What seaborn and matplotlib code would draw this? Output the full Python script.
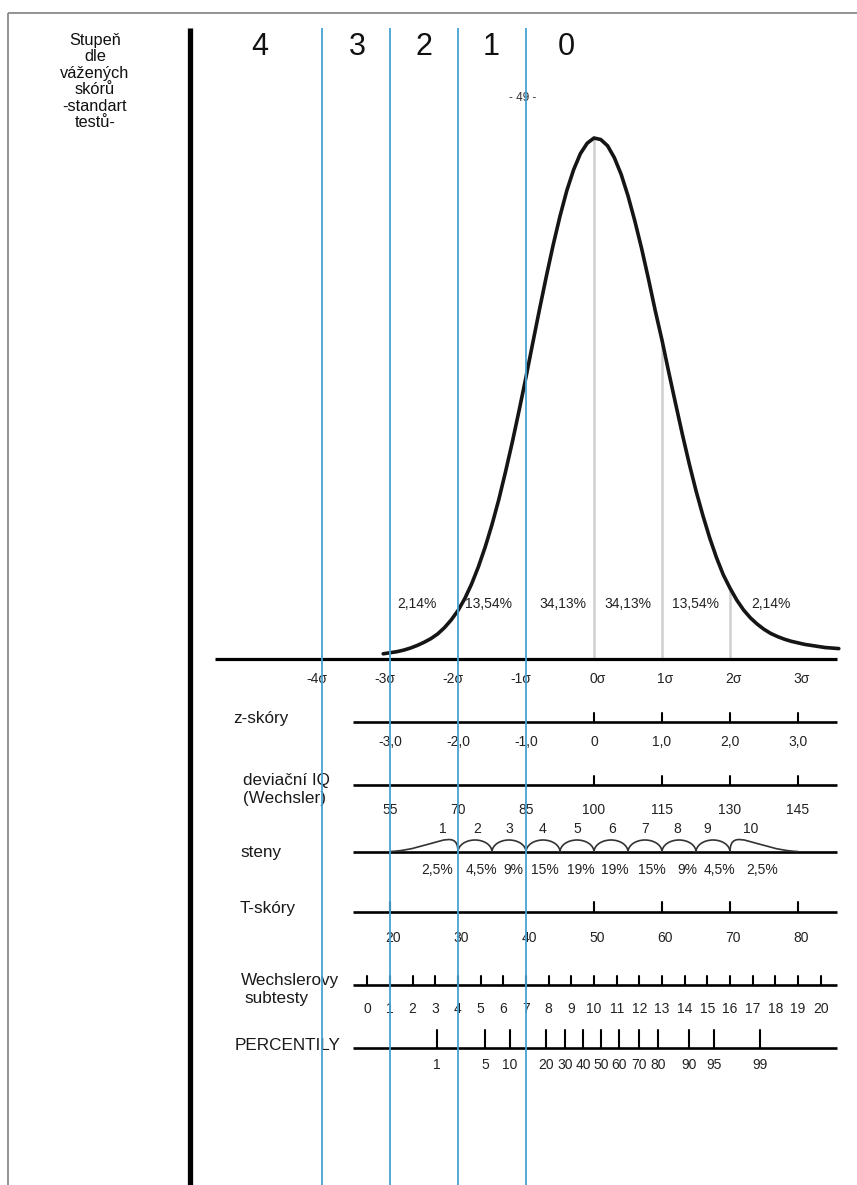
import numpy as np
import matplotlib
matplotlib.use("Agg")
import matplotlib.pyplot as plt
import seaborn as sns
from matplotlib.patches import Arc, PathPatch
from matplotlib.path import Path

# ---------------- data ----------------
grades = ["4", "3", "2", "1", "0"]
grade_pos = [-4.92, -3.48, -2.5, -1.52, -0.4]          # sigma units
grade_bounds = [-4, -3, -2, -1]                         # blue boundary lines

curve_sigma = np.round(np.arange(-3.1, 3.61, 0.1), 1)
curve_height = [0.010, 0.012, 0.014, 0.017, 0.021, 0.026, 0.032, 0.039, 0.048, 0.060,
                0.075, 0.093, 0.116, 0.144, 0.177, 0.215, 0.258, 0.306, 0.360, 0.417,
                0.478, 0.541, 0.607, 0.672, 0.735, 0.795, 0.850, 0.899, 0.939, 0.970,
                0.990, 1.000, 0.997, 0.985, 0.962, 0.930, 0.889, 0.841, 0.788, 0.730,
                0.669, 0.612, 0.550, 0.490, 0.431, 0.375, 0.323, 0.276, 0.233, 0.195,
                0.162, 0.136, 0.113, 0.094, 0.079, 0.067, 0.057, 0.049, 0.043, 0.038,
                0.034, 0.031, 0.028, 0.026, 0.024, 0.022, 0.021, 0.020]
gray_sigma = [0, 1, 2]

band_pct = ["2,14%", "13,54%", "34,13%", "34,13%", "13,54%", "2,14%"]
band_pos = [-2.6, -1.55, -0.45, 0.5, 1.5, 2.6]

sigma_vals = [-4, -3, -2, -1, 0, 1, 2, 3]
sigma_labels = ["-4σ", "-3σ", "-2σ", "-1σ", "0σ", "1σ", "2σ", "3σ"]

z_vals = [-3, -2, -1, 0, 1, 2, 3]
z_labels = ["-3,0", "-2,0", "-1,0", "0", "1,0", "2,0", "3,0"]
z_ticks = [0, 1, 2, 3]

iq_vals = [55, 70, 85, 100, 115, 130, 145]
iq_ticks = [100, 115, 130, 145]

sten_nums = ["1", "2", "3", "4", "5", "6", "7", "8", "9", "10"]
sten_num_pos = [-2.22, -1.72, -1.24, -0.75, -0.25, 0.26, 0.75, 1.22, 1.66, 2.3]
sten_bounds = [-2.0, -1.5, -1.0, -0.5, 0.0, 0.5, 1.0, 1.5, 2.0]
sten_pct = ["2,5%", "4,5%", "9%", "15%", "19%", "19%", "15%", "9%", "4,5%", "2,5%"]
sten_pct_pos = [-2.3, -1.65, -1.19, -0.72, -0.2, 0.31, 0.85, 1.37, 1.85, 2.47]

t_vals = [20, 30, 40, 50, 60, 70, 80]
t_ticks = [20, 50, 60, 70, 80]

sub_vals = list(range(0, 21))

pct_vals = [1, 5, 10, 20, 30, 40, 50, 60, 70, 80, 90, 95, 99]
pct_z = [-2.31, -1.60, -1.24, -0.71, -0.43, -0.16, 0.10, 0.37, 0.66, 0.94, 1.40, 1.76, 2.44]

left_title = "Stupeň\ndle\nvážených\nskórů\n-standart\ntestů-"

# ---------------- layout helpers ----------------
W, H = 857, 1185
X0, XS = 594.0, 68.0           # pixel position of 0 sigma, pixels per sigma


def px(p):
    """horizontal pixel -> sigma units"""
    return (p - X0) / XS


BASE = 659.0
PEAK = 521.0
BLUE = "#45a3d2"
FONT = "Liberation Sans"

sns.set_theme(style="white")
plt.rcParams["font.family"] = [FONT, "DejaVu Sans"]

fig = plt.figure(figsize=(W / 100, H / 100), dpi=100)
fig.patch.set_facecolor("white")
ax = fig.add_axes([0, 0, 1, 1])
ax.set_xlim(px(0), px(W))
ax.set_ylim(H, 0)
ax.axis("off")

# frame
ax.plot([px(8), px(W)], [13, 13], color="#8a8a8a", lw=1.3, solid_capstyle="butt")
ax.plot([px(8), px(8)], [13, H], color="#8a8a8a", lw=1.3, solid_capstyle="butt")

# thick divider
ax.plot([px(190), px(190)], [28, H], color="black", lw=3.8, solid_capstyle="butt")

# left title
ax.text(px(95), 33, left_title, ha="center", va="top", fontsize=11.8,
        linespacing=1.12, color="#111111")

# grade numbers
for g, gp in zip(grades, grade_pos):
    ax.text(gp, 47, g, ha="center", va="center", fontsize=22, color="#111111")

ax.text(-1.05, 98, "- 49 -", ha="center", va="center", fontsize=8.5, color="#333333")

# bell curve
y_curve = BASE - PEAK * np.array(curve_height)
sns.lineplot(x=curve_sigma, y=y_curve, ax=ax, color="#151515", lw=2.6,
             sort=False, estimator=None, zorder=4)

# gray sigma lines under curve
ch = dict(zip(curve_sigma.tolist(), curve_height))
for g in gray_sigma:
    ax.plot([g, g], [BASE, BASE - PEAK * ch[float(g)]], color="#cfcfcf", lw=1.8, zorder=2)

# baseline
ax.plot([px(215), px(837)], [BASE, BASE], color="black", lw=2.3, solid_capstyle="butt", zorder=5)

num_kw = dict(ha="center", va="center", fontsize=10, color="#222222")

for lab, pos in zip(band_pct, band_pos):
    ax.text(pos, 604, lab, **num_kw)

for v, lab in zip(sigma_vals, sigma_labels):
    off = -0.08 if v < 0 else 0.05
    ax.text(v + off, 679, lab, **num_kw)

XL, XR = px(353), px(837)


def row_line(y):
    ax.plot([XL, XR], [y, y], color="black", lw=1.9, solid_capstyle="butt", zorder=3)


def ticks(xs, y, length, lw=1.5):
    for x in xs:
        ax.plot([x, x], [y, y - length], color="black", lw=lw, zorder=3)


label_kw = dict(ha="left", va="center", fontsize=12.3, color="#1a1a1a")

# z-scores
row_line(722)
ticks(z_ticks, 722, 9)
ax.text(px(233), 718, "z-skóry", **label_kw)
for v, lab in zip(z_vals, z_labels):
    ax.text(v, 742, lab, **num_kw)

# deviation IQ
row_line(785)
ticks([(v - 100) / 15 for v in iq_ticks], 785, 9)
ax.text(px(243), 781, "deviační IQ", **label_kw)
ax.text(px(243), 798, "(Wechsler)", **label_kw)
for v in iq_vals:
    ax.text((v - 100) / 15, 810, str(v), **num_kw)

# stens
SY = 852
row_line(SY)
ax.text(px(240), SY, "steny", **label_kw)
for a, b in zip(sten_bounds[:-1], sten_bounds[1:]):
    ax.add_patch(Arc(((a + b) / 2, SY), width=b - a, height=24, theta1=180, theta2=360,
                     color="#333333", lw=1.2, zorder=3))
lb, rb = sten_bounds[0], sten_bounds[-1]
for sign in (-1, 1):
    b = rb if sign > 0 else lb
    e = b + sign * 1.0
    verts = [(e, SY - 0.5), (b + sign * 0.4, SY - 2), (b, SY - 27), (b, SY)]
    ax.add_patch(PathPatch(Path(verts, [Path.MOVETO, Path.CURVE4, Path.CURVE4, Path.CURVE4]),
                           fill=False, edgecolor="#333333", lw=1.2, zorder=3))
for n, p in zip(sten_nums, sten_num_pos):
    ax.text(p, 829, n, **num_kw)
for lab, p in zip(sten_pct, sten_pct_pos):
    ax.text(p, 870, lab, **num_kw)

# T-scores
row_line(912)
ticks([(v - 50) / 10 for v in t_ticks], 912, 10)
ax.text(px(240), 908, "T-skóry", **label_kw)
for v in t_vals:
    ax.text((v - 50) / 10 + 0.05, 938, str(v), **num_kw)

# Wechsler subtests
row_line(985)
ticks([(v - 10) / 3 for v in sub_vals], 985, 9)
ax.text(px(241), 981, "Wechslerovy", **label_kw)
ax.text(px(244), 998, "subtesty", **label_kw)
for v in sub_vals:
    ax.text((v - 10) / 3, 1009, str(v), **num_kw)

# percentiles
row_line(1048)
ticks(pct_z, 1048, 18)
ax.text(px(235), 1045, "PERCENTILY", **label_kw)
for v, z in zip(pct_vals, pct_z):
    ax.text(z, 1065, str(v), **num_kw)

# blue grade boundaries (on top)
for b in grade_bounds:
    ax.plot([b, b], [28, H], color=BLUE, lw=1.3, zorder=6, solid_capstyle="butt")

fig.savefig("out.png", dpi=100, facecolor="white")
